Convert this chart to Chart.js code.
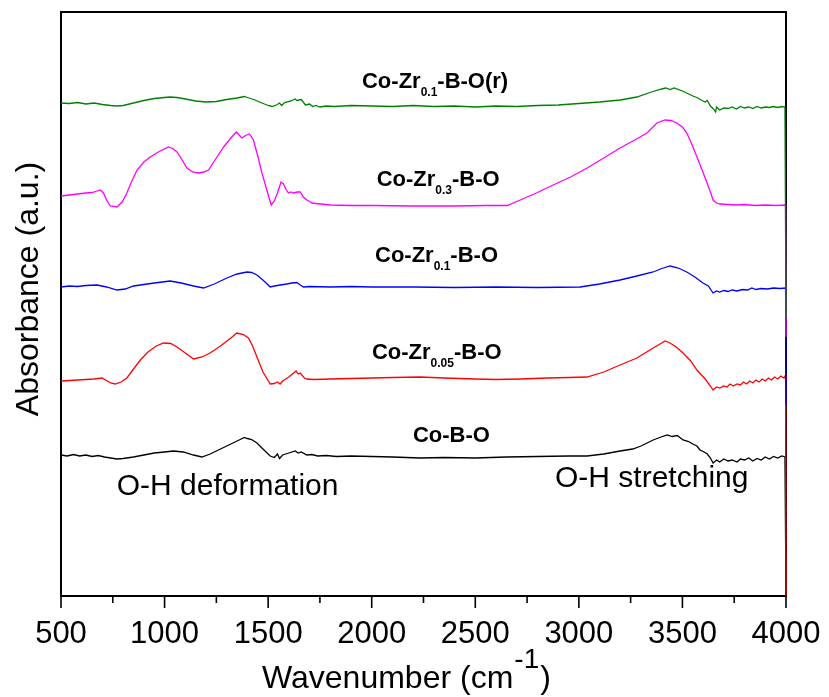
<!DOCTYPE html>
<html>
<head>
<meta charset="utf-8">
<title>FTIR spectra</title>
<script src="https://cdn.jsdelivr.net/npm/chart.js@4/dist/chart.umd.min.js"></script>
<style>
  html, body { margin: 0; padding: 0; background: #ffffff; }
  #wrap { width: 829px; height: 697px; }
</style>
</head>
<body>
<div id="wrap"><canvas id="ftir" width="829" height="697"></canvas></div>
<script>
// Spectra as [wavenumber (cm-1), absorbance (a.u., offset for stacking)]
const coZr01BOr = [
  [500,4.93],[540,4.925],[580,4.935],[620,4.92],[660,4.93],[700,4.915],[740,4.905],[770,4.90],[800,4.905],
  [850,4.93],[900,4.955],[950,4.975],[1000,4.985],[1025,4.99],[1060,4.985],[1100,4.97],[1150,4.95],[1200,4.94],
  [1250,4.945],[1300,4.965],[1350,4.98],[1385,4.995],[1400,4.985],[1430,4.965],[1470,4.93],[1500,4.905],
  [1520,4.895],[1540,4.91],[1555,4.93],[1565,4.905],[1580,4.935],[1610,4.95],[1630,4.97],[1640,4.955],
  [1660,4.965],[1680,4.91],[1700,4.92],[1715,4.895],[1730,4.905],[1750,4.89],[1780,4.90],[1820,4.895],
  [1900,4.905],[2000,4.90],[2100,4.895],[2200,4.905],[2300,4.895],[2400,4.90],[2500,4.89],[2600,4.90],
  [2700,4.895],[2800,4.905],[2900,4.91],[3000,4.925],[3100,4.94],[3200,4.96],[3280,4.99],[3350,5.04],
  [3400,5.07],[3420,5.08],[3440,5.065],[3460,5.08],[3500,5.05],[3530,5.02],[3550,5.00],[3570,4.985],
  [3590,4.96],[3610,4.94],[3620,4.955],[3635,4.90],[3650,4.87],[3660,4.84],[3665,4.89],[3680,4.86],
  [3700,4.88],[3720,4.875],[3740,4.89],[3760,4.87],[3780,4.895],[3800,4.88],[3820,4.89],[3840,4.875],
  [3860,4.895],[3880,4.88],[3900,4.89],[3920,4.885],[3940,4.895],[3960,4.885],[3980,4.895],[3995,4.89],
  [4000,2.78]
];

const coZr03BO = [
  [500,4.00],[540,4.01],[580,4.02],[620,4.03],[650,4.035],[674,4.05],[690,4.06],[705,4.03],[720,3.96],
  [738,3.90],[770,3.89],[795,3.94],[818,4.03],[840,4.14],[867,4.26],[900,4.34],[931,4.39],[970,4.44],
  [1019,4.49],[1040,4.475],[1060,4.44],[1085,4.36],[1108,4.28],[1135,4.24],[1164,4.23],[1190,4.24],
  [1212,4.26],[1250,4.38],[1285,4.49],[1320,4.58],[1346,4.64],[1360,4.61],[1373,4.58],[1395,4.61],
  [1410,4.62],[1429,4.56],[1450,4.40],[1470,4.23],[1495,4.05],[1515,3.91],[1530,3.95],[1545,4.03],
  [1562,4.14],[1574,4.12],[1585,4.07],[1598,4.03],[1610,4.04],[1623,4.03],[1640,4.04],[1655,4.04],
  [1670,3.99],[1687,3.96],[1700,3.945],[1711,3.93],[1730,3.925],[1751,3.92],[1800,3.91],[1900,3.905],
  [2000,3.905],[2200,3.90],[2400,3.90],[2550,3.905],[2654,3.905],[2717,3.96],[2800,4.035],[2876,4.11],
  [2960,4.19],[3040,4.28],[3120,4.38],[3199,4.48],[3270,4.56],[3329,4.63],[3377,4.73],[3416,4.76],
  [3445,4.755],[3473,4.73],[3500,4.69],[3521,4.63],[3545,4.52],[3570,4.39],[3595,4.26],[3619,4.13],
  [3635,4.04],[3648,3.96],[3665,3.93],[3681,3.92],[3720,3.915],[3760,3.91],[3800,3.915],[3850,3.905],
  [3900,3.91],[3950,3.905],[3998,3.91],[4000,2.59]
];

const coZr01BO = [
  [500,3.09],[540,3.10],[580,3.095],[620,3.105],[674,3.11],[720,3.09],[770,3.06],[810,3.07],[850,3.10],
  [883,3.11],[950,3.13],[1027,3.15],[1080,3.13],[1140,3.10],[1188,3.08],[1240,3.12],[1301,3.18],
  [1350,3.22],[1398,3.24],[1420,3.235],[1446,3.21],[1480,3.15],[1510,3.09],[1530,3.10],[1558,3.11],
  [1590,3.12],[1615,3.13],[1639,3.135],[1655,3.11],[1671,3.09],[1700,3.095],[1800,3.09],[1900,3.095],
  [2000,3.09],[2200,3.09],[2400,3.085],[2600,3.09],[2800,3.085],[3006,3.09],[3100,3.12],[3199,3.16],
  [3280,3.20],[3359,3.24],[3400,3.275],[3441,3.30],[3480,3.28],[3521,3.24],[3560,3.19],[3599,3.13],
  [3625,3.10],[3648,3.03],[3665,3.05],[3680,3.04],[3700,3.055],[3720,3.045],[3740,3.06],[3764,3.05],
  [3790,3.065],[3815,3.06],[3835,3.08],[3855,3.065],[3880,3.075],[3910,3.07],[3940,3.08],[3970,3.075],
  [3998,3.08],[4000,1.91]
];

const coZr005BO = [
  [500,2.15],[540,2.155],[580,2.16],[620,2.165],[660,2.17],[698,2.18],[715,2.16],[740,2.13],[762,2.12],
  [790,2.14],[818,2.18],[850,2.27],[883,2.36],[920,2.44],[960,2.50],[995,2.53],[1030,2.525],[1060,2.49],
  [1100,2.43],[1140,2.37],[1180,2.39],[1220,2.43],[1270,2.50],[1320,2.58],[1349,2.63],[1380,2.615],
  [1405,2.58],[1425,2.50],[1446,2.39],[1475,2.24],[1510,2.12],[1530,2.125],[1545,2.14],[1558,2.12],
  [1570,2.15],[1600,2.19],[1623,2.23],[1635,2.25],[1645,2.22],[1655,2.23],[1675,2.18],[1687,2.17],
  [1720,2.165],[1800,2.17],[1900,2.175],[2000,2.18],[2100,2.185],[2234,2.19],[2350,2.18],[2500,2.17],
  [2600,2.165],[2717,2.17],[2850,2.18],[2950,2.185],[3040,2.19],[3120,2.24],[3199,2.31],[3280,2.38],
  [3359,2.48],[3400,2.53],[3416,2.55],[3440,2.53],[3470,2.49],[3503,2.43],[3540,2.35],[3570,2.26],
  [3610,2.17],[3635,2.10],[3648,2.06],[3665,2.09],[3680,2.08],[3700,2.10],[3715,2.09],[3730,2.12],
  [3745,2.10],[3764,2.12],[3780,2.11],[3795,2.14],[3810,2.12],[3825,2.15],[3840,2.13],[3855,2.16],
  [3870,2.14],[3885,2.17],[3900,2.15],[3915,2.18],[3930,2.16],[3945,2.19],[3960,2.17],[3975,2.20],
  [3990,2.18],[3998,2.21],[4000,0]
];

const coBO = [
  [500,1.41],[530,1.40],[560,1.415],[590,1.40],[620,1.41],[650,1.395],[680,1.405],[710,1.39],[740,1.38],
  [770,1.37],[800,1.375],[850,1.39],[900,1.41],[950,1.43],[1000,1.44],[1043,1.45],[1090,1.44],[1140,1.41],
  [1180,1.39],[1220,1.42],[1270,1.47],[1320,1.52],[1360,1.56],[1385,1.585],[1400,1.575],[1420,1.565],
  [1446,1.53],[1475,1.47],[1510,1.40],[1530,1.385],[1545,1.42],[1555,1.375],[1570,1.41],[1600,1.43],
  [1631,1.45],[1645,1.43],[1660,1.44],[1687,1.41],[1710,1.415],[1740,1.40],[1780,1.405],[1830,1.395],
  [1900,1.40],[2000,1.395],[2100,1.39],[2234,1.38],[2350,1.385],[2500,1.38],[2650,1.39],[2800,1.395],
  [2950,1.40],[3040,1.40],[3120,1.42],[3199,1.45],[3260,1.47],[3300,1.50],[3359,1.56],[3390,1.585],
  [3426,1.61],[3450,1.595],[3475,1.605],[3503,1.56],[3530,1.545],[3550,1.52],[3570,1.50],[3585,1.46],
  [3605,1.44],[3620,1.42],[3635,1.38],[3648,1.33],[3665,1.36],[3680,1.34],[3700,1.37],[3720,1.35],
  [3740,1.36],[3764,1.34],[3780,1.37],[3800,1.36],[3820,1.38],[3840,1.35],[3860,1.375],[3880,1.36],
  [3900,1.39],[3920,1.37],[3940,1.395],[3960,1.38],[3980,1.40],[3995,1.39],[4000,0]
];

const seriesNames = ['Co-Zr0.1-B-O(r)', 'Co-Zr0.3-B-O', 'Co-Zr0.1-B-O', 'Co-Zr0.05-B-O', 'Co-B-O'];
const seriesData = [coZr01BOr, coZr03BO, coZr01BO, coZr005BO, coBO];
const seriesColors = ['#008000', '#ff00ff', '#0000ff', '#ff0000', '#000000'];

const majorTicks = [500, 1000, 1500, 2000, 2500, 3000, 3500, 4000];
const minorTicks = [750, 1250, 1750, 2250, 2750, 3250, 3750];

// Trace captions: [wavenumber, absorbance] of the text's left baseline
const captions = [
  { at: [1953, 5.077], parts: [['Co-Zr', false], ['0.1', true], ['-B-O(r)', false]] },
  { at: [2024, 4.10],  parts: [['Co-Zr', false], ['0.3', true], ['-B-O', false]] },
  { at: [2016, 3.343], parts: [['Co-Zr', false], ['0.1', true], ['-B-O', false]] },
  { at: [2001, 2.37],  parts: [['Co-Zr', false], ['0.05', true], ['-B-O', false]] },
  { at: [2199, 1.543], parts: [['Co-B-O', false]] }
];
const bandNotes = [
  { at: [769, 1.01],  text: 'O-H deformation' },
  { at: [2885, 1.093], text: 'O-H stretching' }
];

const FONT = "'Liberation Sans', Arial, Helvetica, sans-serif";

const decor = {
  id: 'decor',
  beforeDatasetsDraw(chart) {
    const { ctx, chartArea: a } = chart;
    ctx.save();
    ctx.strokeStyle = '#000';
    ctx.lineWidth = 2;
    ctx.strokeRect(a.left, a.top, a.right - a.left, a.bottom - a.top);
    ctx.restore();
  },
  afterDraw(chart) {
    const { ctx, chartArea: a } = chart;
    const xs = chart.scales.x, ys = chart.scales.y;
    ctx.save();
    // bottom axis ticks
    ctx.strokeStyle = '#000';
    ctx.lineWidth = 1.6;
    ctx.beginPath();
    majorTicks.forEach(v => {
      const px = xs.getPixelForValue(v);
      ctx.moveTo(px, a.bottom); ctx.lineTo(px, a.bottom + 12);
    });
    minorTicks.forEach(v => {
      const px = xs.getPixelForValue(v);
      ctx.moveTo(px, a.bottom); ctx.lineTo(px, a.bottom + 7);
    });
    ctx.stroke();

    ctx.fillStyle = '#000';
    ctx.textBaseline = 'alphabetic';
    ctx.textAlign = 'center';
    ctx.font = '31px ' + FONT;
    majorTicks.forEach(v => {
      ctx.fillText(String(v), xs.getPixelForValue(v), a.bottom + 47);
    });

    // x title with superscript
    ctx.textAlign = 'left';
    const tx = 262, ty = a.bottom + 92;
    ctx.font = '32px ' + FONT;
    const t1 = 'Wavenumber (cm';
    ctx.fillText(t1, tx, ty);
    let cx = tx + ctx.measureText(t1).width + 1;
    ctx.font = '28px ' + FONT;
    ctx.fillText('-1', cx, ty - 20);
    cx += ctx.measureText('-1').width + 1;
    ctx.font = '32px ' + FONT;
    ctx.fillText(')', cx, ty);

    // y title
    ctx.save();
    ctx.translate(38, (a.top + a.bottom) / 2 - 15);
    ctx.rotate(-Math.PI / 2);
    ctx.textAlign = 'center';
    ctx.font = '32px ' + FONT;
    ctx.fillText('Absorbance (a.u.)', 0, 0);
    ctx.restore();

    // trace captions
    captions.forEach(c => {
      let x = xs.getPixelForValue(c.at[0]);
      const y = ys.getPixelForValue(c.at[1]);
      c.parts.forEach(([txt, sub]) => {
        ctx.font = (sub ? 'bold 12px ' : 'bold 22px ') + FONT;
        ctx.fillText(txt, x, sub ? y + 8 : y);
        x += ctx.measureText(txt).width;
      });
    });

    // band assignments
    ctx.font = '30px ' + FONT;
    bandNotes.forEach(n => {
      ctx.fillText(n.text, xs.getPixelForValue(n.at[0]), ys.getPixelForValue(n.at[1]));
    });
    ctx.restore();
  }
};

new Chart(document.getElementById('ftir'), {
  type: 'line',
  data: {
    datasets: seriesData.map((pts, i) => ({
      label: seriesNames[i],
      data: pts.map(([w, v]) => ({ x: w, y: v })),
      borderColor: seriesColors[i],
      borderWidth: 1.3,
      pointRadius: 0,
      tension: 0,
      fill: false,
      clip: 4
    }))
  },
  options: {
    responsive: false,
    animation: false,
    devicePixelRatio: 1,
    layout: { padding: { left: 61, right: 43, top: 12, bottom: 101 } },
    plugins: { legend: { display: false }, tooltip: { enabled: false } },
    scales: {
      x: { type: 'linear', min: 500, max: 4000, display: false },
      y: { type: 'linear', min: 0, max: 5.84, display: false }
    }
  },
  plugins: [decor]
});
</script>
</body>
</html>
